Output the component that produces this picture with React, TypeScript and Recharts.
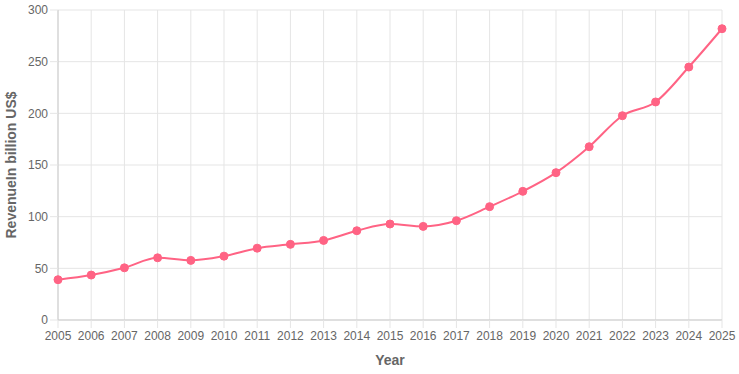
import React from 'react';
import { LineChart, Line, XAxis, YAxis, CartesianGrid } from 'recharts';

const years = [
  '2005', '2006', '2007', '2008', '2009', '2010', '2011', '2012', '2013', '2014', '2015',
  '2016', '2017', '2018', '2019', '2020', '2021', '2022', '2023', '2024', '2025',
];
// revenue in billion US$
const revenue = [
  39, 43.5, 50.5, 60.2, 57.7, 61.8, 69.5, 73.2, 77, 86.4, 92.9,
  90.6, 96.1, 109.7, 124.5, 142.6, 167.7, 197.7, 211, 244.8, 281.9,
];
const yTicks = [0, 50, 100, 150, 200, 250, 300];

const chartData = years.map((year, i) => ({ year, revenue: revenue[i] }));

const font = 'Helvetica, Arial, "Liberation Sans", sans-serif';
const tickStyle = { fontSize: 12, fill: '#666', fontFamily: font };

export default function App() {
  return (
    <div style={{ position: 'absolute', left: 0, top: 0, background: '#fff' }}>
      <LineChart width={739} height={374} data={chartData} margin={{ top: 10, right: 17, bottom: 0, left: 0 }}>
        <CartesianGrid stroke="#e5e5e5" />
        <XAxis
          dataKey="year"
          interval={0}
          tick={tickStyle}
          tickSize={8}
          tickMargin={3}
          height={54}
          stroke="#cccccc"
          tickLine={{ stroke: '#e5e5e5' }}
          label={{ value: 'Year', position: 'insideBottom', offset: 9, style: { fontSize: 14, fontWeight: 'bold', fill: '#666', fontFamily: font } }}
        />
        <YAxis
          domain={[0, 300]}
          ticks={yTicks}
          tick={tickStyle}
          tickSize={8}
          tickMargin={2}
          width={58}
          stroke="#cccccc"
          tickLine={{ stroke: '#e5e5e5' }}
          label={{ value: 'RevenueIn billion US$', angle: -90, position: 'insideLeft', offset: 11, style: { textAnchor: 'middle', fontSize: 14, fontWeight: 'bold', fill: '#666', fontFamily: font } }}
        />
        <Line
          type="monotone"
          dataKey="revenue"
          stroke="#ff6384"
          strokeWidth={2}
          dot={{ r: 4, fill: '#ff6384', stroke: '#ff6384', strokeWidth: 1 }}
          isAnimationActive={false}
        />
      </LineChart>
    </div>
  );
}
